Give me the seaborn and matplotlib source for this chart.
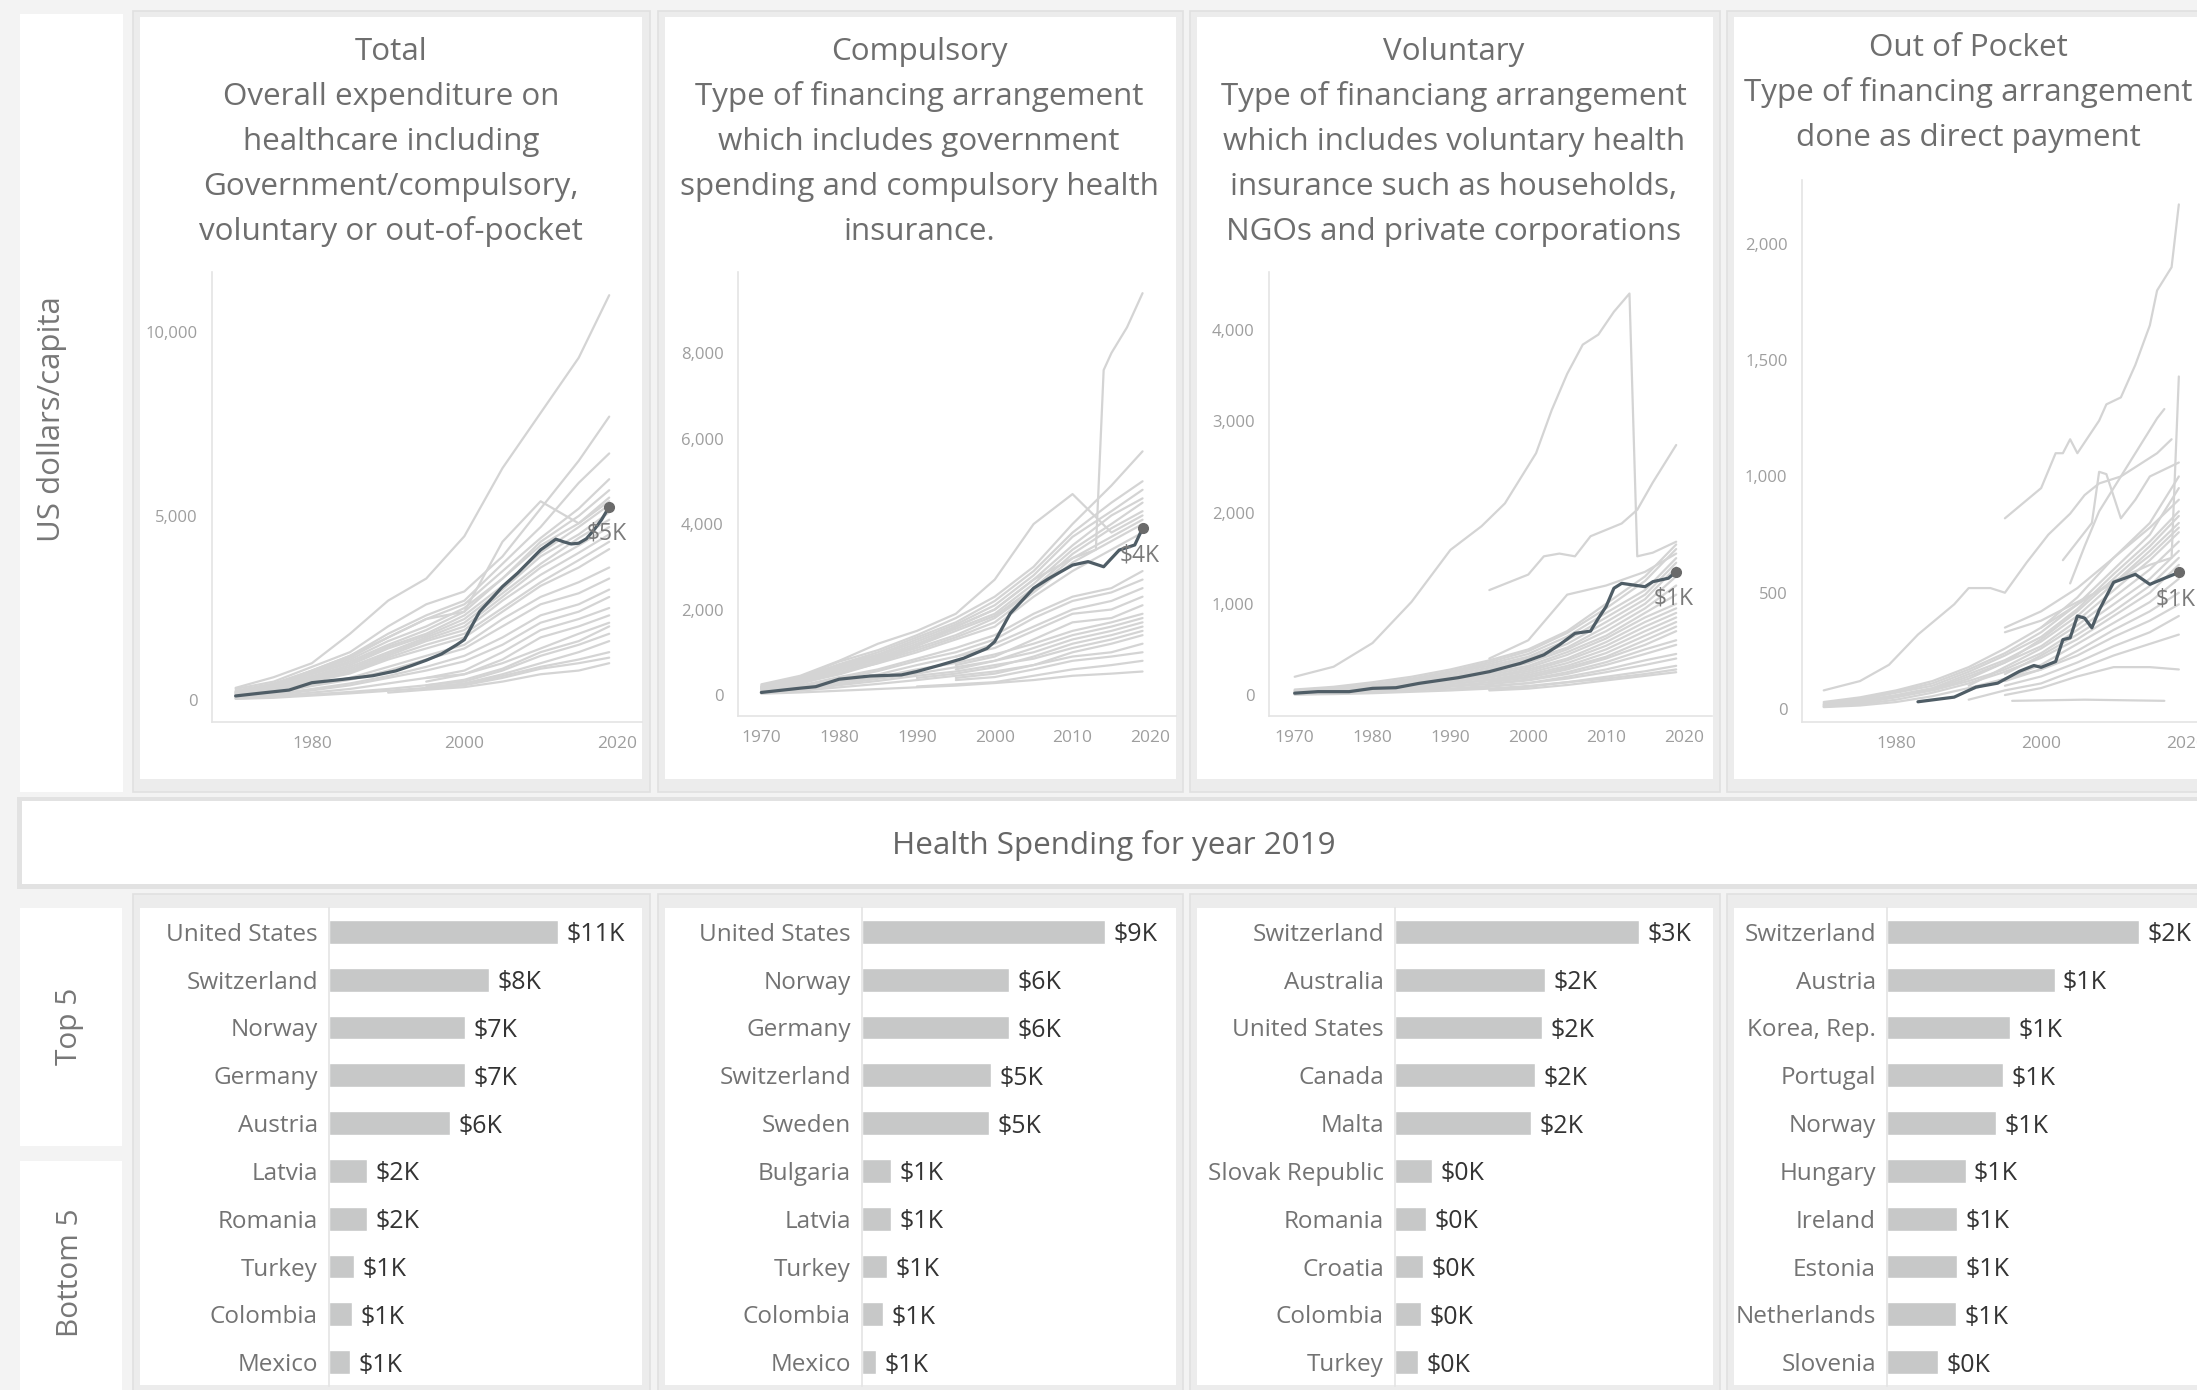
import matplotlib
matplotlib.use("Agg")
import numpy as np
import pandas as pd
import matplotlib.pyplot as plt
import seaborn as sns
from matplotlib.patches import Rectangle

# ---------------- DATA ----------------
GRID_YEARS = [1970, 1975, 1980, 1985, 1990, 1995, 2000, 2005, 2010, 2015, 2019]
N = None

TOTAL_GRAY = [
    [330, 620, 1000, 1800, 2700, 3300, 4450, 6300, 7800, 9300, 11000],
    [300, 500, 900, 1300, 2000, 2600, 2950, 3900, 5200, 6500, 7700],
    [250, 450, 800, 1200, 1800, 2300, 2700, 3700, 4700, 5900, 6700],
    [200, 400, 800, 1200, 1700, 2200, 2400, 4300, 5400, 4800, 5400],
    [230, 420, 780, 1150, 1700, 2200, 2600, 3500, 4400, 5200, 6000],
    [220, 400, 760, 1100, 1600, 2000, 2500, 3300, 4300, 5000, 5700],
    [200, 380, 720, 1050, 1500, 1900, 2400, 3300, 4200, 4800, 5500],
    [180, 360, 700, 1000, 1450, 1800, 2300, 3100, 4000, 4700, 5300],
    [170, 340, 650, 950, 1400, 1750, 2200, 3000, 3900, 4500, 5100],
    [160, 320, 620, 900, 1300, 1700, 2100, 2900, 3700, 4400, 4900],
    [150, 300, 600, 850, 1250, 1650, 2000, 2800, 3600, 4200, 4700],
    [140, 280, 560, 800, 1200, 1600, 1900, 2700, 3400, 4000, 4500],
    [130, 260, 520, 760, 1150, 1500, 1800, 2500, 3200, 3800, 4300],
    [120, 240, 500, 720, 1100, 1400, 1700, 2400, 3100, 3600, 4100],
    [100, 200, 420, 600, 900, 1200, 1500, 2200, 2800, 3200, 3600],
    [90, 180, 380, 550, 800, 1100, 1400, 2000, 2600, 2900, 3300],
    [80, 150, 300, 450, 650, 900, 1200, 1700, 2300, 2600, 3000],
    [70, 130, 260, 400, 600, 800, 1050, 1500, 2100, 2400, 2800],
    [N, N, N, N, N, 600, 800, 1300, 1900, 2200, 2500],
    [N, N, N, N, N, 500, 700, 1100, 1700, 2000, 2300],
    [50, 100, 200, 300, 450, 600, 700, 1000, 1400, 1800, 2100],
    [N, N, N, N, N, 400, 550, 850, 1300, 1600, 2000],
    [40, 80, 150, 220, 300, 400, 500, 800, 1200, 1500, 1800],
    [N, N, N, N, N, 350, 450, 700, 1000, 1300, 1600],
    [30, 60, 120, 180, 250, 330, 420, 650, 900, 1100, 1300],
    [N, N, N, N, N, 300, 400, 600, 850, 1000, 1150],
    [N, N, N, N, 200, 280, 350, 500, 700, 800, 1000],
]

COMP_GRAY = [
    [250, 450, 800, 1200, 1500, 1900, 2700, 4000, 4700, 3800, 4200],
    [220, 420, 780, 1050, 1400, 1800, 2300, 3000, 4000, 4900, 5700],
    [200, 400, 720, 1000, 1350, 1700, 2200, 2900, 3800, 4500, 5000],
    [190, 380, 700, 950, 1300, 1650, 2100, 2800, 3700, 4300, 4800],
    [180, 360, 680, 920, 1250, 1600, 2000, 2700, 3500, 4200, 4600],
    [170, 340, 650, 880, 1200, 1550, 1900, 2600, 3400, 4000, 4500],
    [160, 320, 620, 850, 1150, 1500, 1850, 2500, 3300, 3900, 4300],
    [150, 300, 600, 820, 1100, 1400, 1800, 2450, 3200, 3700, 4100],
    [140, 280, 560, 780, 1050, 1350, 1700, 2400, 3100, 3600, 4000],
    [130, 260, 520, 740, 1000, 1300, 1600, 2300, 2900, 3400, 3800],
    [110, 220, 420, 600, 850, 1100, 1400, 1900, 2300, 2500, 2900],
    [100, 200, 380, 560, 800, 1000, 1300, 1800, 2200, 2400, 2700],
    [N, N, N, N, N, 900, 1200, 1600, 2000, 2200, 2500],
    [90, 180, 330, 480, 700, 900, 1100, 1500, 1900, 2000, 2300],
    [N, N, N, N, N, 700, 900, 1300, 1700, 1800, 2100],
    [80, 160, 300, 420, 600, 750, 950, 1200, 1500, 1700, 1900],
    [N, N, N, N, N, 600, 800, 1100, 1400, 1600, 1800],
    [70, 140, 260, 380, 500, 650, 800, 1000, 1300, 1500, 1700],
    [N, N, N, N, 400, 500, 650, 900, 1200, 1400, 1600],
    [60, 120, 230, 330, 450, 550, 700, 850, 1100, 1300, 1500],
    [N, N, N, N, N, 400, 500, 700, 1000, 1200, 1400],
    [50, 100, 180, 260, 350, 450, 550, 700, 900, 1000, 1200],
    [N, N, N, N, N, 350, 420, 600, 800, 900, 1000],
    [N, N, N, N, 200, 250, 300, 450, 600, 700, 800],
    [30, 60, 100, 140, 180, 220, 280, 350, 450, 500, 550],
]
COMP_JUMP_YEARS = [1970, 1975, 1980, 1985, 1990, 1995, 2000, 2005, 2010, 2013, 2014, 2015, 2017, 2019]
COMP_JUMP = [150, 280, 480, 750, 1150, 1600, 2000, 2700, 3200, 3400, 7600, 8000, 8600, 9400]

VOL_GRAY = [
    [60, 90, 140, 200, 280, 380, 500, 700, 1000, 1300, 1650],
    [50, 80, 120, 180, 260, 360, 480, 680, 950, 1250, 1600],
    [N, N, N, N, N, 400, 600, 1100, 1200, 1350, 1550],
    [45, 75, 110, 170, 250, 340, 450, 640, 900, 1150, 1500],
    [40, 70, 100, 160, 240, 320, 420, 600, 850, 1100, 1450],
    [35, 60, 95, 150, 220, 300, 400, 560, 800, 1050, 1400],
    [30, 55, 90, 140, 200, 280, 380, 520, 750, 1000, 1300],
    [28, 50, 85, 130, 190, 260, 350, 500, 700, 950, 1200],
    [25, 45, 80, 120, 180, 240, 320, 470, 650, 900, 1100],
    [22, 40, 70, 110, 160, 220, 300, 440, 620, 850, 1000],
    [20, 35, 60, 100, 150, 200, 280, 400, 580, 800, 950],
    [18, 30, 55, 90, 140, 190, 260, 380, 540, 750, 900],
    [N, N, N, N, 120, 170, 240, 350, 500, 700, 850],
    [15, 25, 50, 80, 120, 160, 220, 320, 460, 650, 800],
    [N, N, N, N, N, 150, 200, 300, 420, 600, 750],
    [12, 20, 40, 70, 100, 140, 190, 280, 400, 550, 700],
    [N, N, N, N, N, 120, 170, 250, 360, 500, 600],
    [10, 18, 35, 60, 90, 120, 160, 230, 330, 450, 550],
    [N, N, N, N, 60, 90, 130, 200, 280, 380, 450],
    [8, 15, 30, 50, 70, 100, 130, 180, 250, 330, 400],
    [N, N, N, N, N, 60, 90, 140, 200, 260, 320],
    [5, 10, 20, 35, 50, 70, 100, 140, 180, 230, 280],
    [N, N, N, N, N, 50, 70, 110, 160, 210, 250],
]
VOL_DROP_YEARS = [1970, 1975, 1980, 1985, 1990, 1994, 1997, 2001, 2003, 2005, 2007, 2009, 2011, 2013, 2014, 2016, 2019]
VOL_DROP = [200, 310, 570, 1020, 1590, 1850, 2100, 2650, 3120, 3520, 3840, 3950, 4200, 4400, 1520, 1560, 1680]
VOL_RISE_YEARS = [1995, 2000, 2002, 2004, 2006, 2008, 2010, 2012, 2014, 2016, 2019]
VOL_RISE = [1150, 1320, 1520, 1550, 1520, 1740, 1810, 1880, 2030, 2330, 2740]

OOP_GRAY = [
    [30, 50, 80, 120, 180, 260, 350, 480, 650, 800, 1000],
    [25, 45, 75, 110, 170, 240, 330, 450, 600, 750, 950],
    [N, N, N, N, N, 350, 420, 520, 650, 780, 900],
    [20, 40, 70, 100, 160, 230, 310, 430, 580, 720, 850],
    [N, N, N, 80, 130, 200, 300, 420, 560, 700, 830],
    [18, 35, 60, 90, 150, 210, 290, 400, 540, 680, 800],
    [N, N, N, N, N, 330, 380, 460, 540, 660, 780],
    [15, 30, 55, 85, 140, 200, 270, 380, 510, 640, 760],
    [N, N, N, N, 100, 180, 260, 360, 480, 600, 720],
    [12, 25, 50, 80, 120, 170, 240, 340, 450, 560, 680],
    [N, N, N, N, N, 150, 230, 320, 420, 530, 650],
    [10, 20, 40, 70, 110, 160, 220, 300, 400, 500, 620],
    [N, N, N, N, 80, 130, 190, 280, 370, 460, 560],
    [N, N, N, N, N, 120, 170, 250, 340, 420, 500],
    [8, 15, 30, 55, 90, 130, 170, 230, 310, 380, 450],
    [N, N, N, N, N, 100, 140, 200, 270, 330, 400],
    [N, N, N, N, 40, 80, 110, 170, 230, 280, 320],
    [N, N, N, N, N, 60, 90, 140, 180, 180, 170],
]
OOP_TOP_YEARS = [1995, 2000, 2002, 2003, 2004, 2005, 2008, 2009, 2011, 2013, 2015, 2016, 2018, 2019]
OOP_TOP = [820, 950, 1100, 1100, 1160, 1100, 1240, 1310, 1340, 1480, 1650, 1800, 1900, 2170]
OOP_SECOND_YEARS = [1970, 1975, 1979, 1983, 1988, 1990, 1993, 1995, 1998, 2001, 2004, 2006, 2008, 2011, 2014, 2016, 2018]
OOP_SECOND = [80, 120, 190, 320, 450, 520, 520, 500, 630, 750, 840, 920, 970, 1000, 1060, 1100, 1160]
OOP_SPIKE_YEARS = [2000, 2005, 2010, 2015, 2018, 2019]
OOP_SPIKE = [350, 450, 550, 620, 650, 1430]
OOP_CLIMB_YEARS = [2004, 2006, 2008, 2010, 2012, 2014, 2016, 2017]
OOP_CLIMB = [540, 700, 850, 950, 1050, 1150, 1250, 1290]
OOP_PEAK_YEARS = [2003, 2005, 2007, 2008, 2009, 2011, 2013, 2015, 2019]
OOP_PEAK = [640, 720, 800, 1020, 1010, 820, 900, 1000, 1060]
OOP_FLAT_YEARS = [1996, 2006, 2017]
OOP_FLAT = [35, 40, 35]

TOTAL_HL_YEARS = [1970, 1973, 1977, 1980, 1984, 1988, 1991, 1993, 1995, 1997, 1999, 2000, 2002, 2004,
                  2005, 2007, 2010, 2012, 2013, 2014, 2015, 2016, 2017, 2018, 2019]
TOTAL_HL = [110, 180, 270, 470, 560, 660, 790, 930, 1080, 1250, 1500, 1640, 2400, 2850,
            3080, 3450, 4080, 4370, 4300, 4240, 4260, 4380, 4620, 4900, 5250]
COMP_HL_YEARS = [1970, 1972, 1975, 1977, 1980, 1984, 1988, 1990, 1993, 1996, 1999, 2000, 2002, 2005,
                 2007, 2010, 2012, 2014, 2016, 2017, 2018, 2019]
COMP_HL = [60, 100, 160, 195, 370, 445, 470, 550, 700, 860, 1090, 1250, 1910, 2500,
           2730, 3040, 3120, 3000, 3390, 3450, 3510, 3900]
VOL_HL_YEARS = [1970, 1973, 1977, 1980, 1983, 1986, 1991, 1995, 1999, 2002, 2004, 2006, 2008, 2009,
                2010, 2011, 2012, 2015, 2016, 2018, 2019]
VOL_HL = [20, 37, 37, 73, 80, 128, 190, 256, 347, 440, 550, 676, 700, 840,
          970, 1170, 1224, 1187, 1242, 1280, 1352]
OOP_HL_YEARS = [1983, 1988, 1991, 1994, 1997, 1999, 2000, 2002, 2003, 2004, 2005, 2006, 2007, 2008,
                2010, 2013, 2015, 2017, 2019]
OOP_HL = [31, 51, 94, 111, 162, 187, 179, 204, 298, 306, 400, 391, 349, 425, 545, 579, 536, 562, 587]

TOTAL_COUNTRIES = ['United States', 'Switzerland', 'Norway', 'Germany', 'Austria',
                   'Latvia', 'Romania', 'Turkey', 'Colombia', 'Mexico']
TOTAL_2019 = [11000, 7690, 6530, 6530, 5810, 1830, 1830, 1200, 1110, 1010]
COMP_COUNTRIES = ['United States', 'Norway', 'Germany', 'Switzerland', 'Sweden',
                  'Bulgaria', 'Latvia', 'Turkey', 'Colombia', 'Mexico']
COMP_2019 = [9400, 5690, 5690, 4990, 4910, 1120, 1120, 970, 810, 540]
VOL_COUNTRIES = ['Switzerland', 'Australia', 'United States', 'Canada', 'Malta',
                 'Slovak Republic', 'Romania', 'Croatia', 'Colombia', 'Turkey']
VOL_2019 = [2750, 1690, 1660, 1580, 1530, 420, 350, 320, 290, 260]
OOP_COUNTRIES = ['Switzerland', 'Austria', 'Korea, Rep.', 'Portugal', 'Norway',
                 'Hungary', 'Ireland', 'Estonia', 'Netherlands', 'Slovenia']
OOP_2019 = [2150, 1430, 1050, 990, 930, 670, 600, 600, 590, 435]

TITLES = [
    ['Total', 'Overall expenditure on', 'healthcare including', 'Government/compulsory,',
     'voluntary or out-of-pocket'],
    ['Compulsory', 'Type of financing arrangement', 'which includes government',
     'spending and compulsory health', 'insurance.'],
    ['Voluntary', 'Type of financiang arrangement', 'which includes voluntary health',
     'insurance such as households,', 'NGOs and private corporations'],
    ['Out of Pocket', 'Type of financing arrangement', 'done as direct payment'],
]
Y_LABEL = 'US dollars/capita'
BANNER = 'Health Spending for year 2019'
GROUP_LABELS = ['Top 5', 'Bottom 5']

# ---------------- STYLE / LAYOUT ----------------
W, H = 2197, 1390
sns.set_theme(style="white")
plt.rcParams['font.family'] = ['Open Sans', 'DejaVu Sans']

BG = '#f3f3f3'
BAND = '#ececec'
EDGE = '#e0e0e0'
GRAY_LINE = '#d4d4d4'
HL_LINE = '#4f5d66'
TICK_C = '#9e9e9e'
TITLE_C = '#6e6e6e'
BAR_C = '#c7c8c8'

fig = plt.figure(figsize=(W / 100, H / 100), dpi=100, facecolor=BG)


def fr(x0, y0, x1, y1):
    return [x0 / W, 1 - y1 / H, (x1 - x0) / W, (y1 - y0) / H]


def box(x0, y0, x1, y1, fc='white', ec=None, lw=0.0, z=-10):
    fig.patches.append(Rectangle((x0 / W, 1 - y1 / H), (x1 - x0) / W, (y1 - y0) / H,
                                 transform=fig.transFigure, facecolor=fc,
                                 edgecolor=ec if ec else fc, linewidth=lw, zorder=z))


def ftext(x, y, s, **kw):
    fig.text(x / W, 1 - y / H, s, **kw)


OUTER_X = [(133, 650), (658, 1183), (1190, 1720), (1727, 2212)]
INNER_X = [(140, 642), (665, 1176), (1197, 1713), (1734, 2205)]

# top row frames
box(20, 14, 123, 792)
for (ox0, ox1), (ix0, ix1) in zip(OUTER_X, INNER_X):
    box(ox0, 11, ox1, 792, fc=BAND, ec=EDGE, lw=1.2, z=-11)
    box(ix0, 17, ix1, 779)
# banner
box(17, 797, 2205, 889, fc='#e2e2e2', z=-11)
box(22, 801, 2205, 884)
# bottom row frames
box(20, 908, 122, 1146)
box(20, 1161, 122, 1400)
for (ox0, ox1), (ix0, ix1) in zip(OUTER_X, INNER_X):
    box(ox0, 894, ox1, 1400, fc=BAND, ec=EDGE, lw=1.2, z=-11)
    box(ix0, 908, ix1, 1385)

# titles
CENTERS = [391, 919, 1454, 1968]
for c, (cx, lines) in enumerate(zip(CENTERS, TITLES)):
    first = 45 if c == 3 else 49
    for k, line in enumerate(lines):
        ftext(cx, first + 45 * k + 11, line, ha='center', va='baseline',
              fontsize=22.6, color=TITLE_C)

ftext(52, 419, Y_LABEL, rotation=90, ha='center', va='center', fontsize=22.5, color='#777777')
ftext(1114, 854, BANNER, ha='center', va='baseline', fontsize=22.6, color='#666666')
ftext(70, 1026, GROUP_LABELS[0], rotation=90, ha='center', va='center', fontsize=21.5, color='#777777')
ftext(71, 1273, GROUP_LABELS[1], rotation=90, ha='center', va='center', fontsize=21.5, color='#777777')


def line_panel(px, gray, specials, hl_years, hl_vals, xlim, ylim, xticks, yticks):
    ax = fig.add_axes(fr(*px))
    ax.set_facecolor('none')
    rows = []
    for i, vals in enumerate(gray):
        for yr, v in zip(GRID_YEARS, vals):
            if v is not None:
                rows.append((f'g{i}', yr, v))
    for j, (yrs, vals) in enumerate(specials):
        for yr, v in zip(yrs, vals):
            rows.append((f's{j}', yr, v))
    df = pd.DataFrame(rows, columns=['country', 'year', 'value'])
    sns.lineplot(data=df, x='year', y='value', units='country', estimator=None,
                 color=GRAY_LINE, lw=1.6, ax=ax, legend=False)
    hl = pd.DataFrame({'year': hl_years, 'value': hl_vals})
    sns.lineplot(data=hl, x='year', y='value', color=HL_LINE, lw=2.3, ax=ax)
    ax.plot(hl_years[-1], hl_vals[-1], 'o', color='#6a6a6a', ms=7, zorder=5)
    ax.annotate(f'${round(hl_vals[-1] / 1000)}K', (hl_years[-1], hl_vals[-1]),
                xytext=(-2, -19.5), textcoords='offset points', ha='center', va='center',
                color='#7a7a7a', fontsize=16.5)
    ax.set_xlim(*xlim)
    ax.set_ylim(*ylim)
    ax.set_xticks(xticks)
    ax.set_xticklabels([str(t) for t in xticks])
    ax.set_yticks(yticks)
    ax.set_yticklabels([f'{t:,}' for t in yticks])
    ax.set_xlabel('')
    ax.set_ylabel('')
    for s in ['top', 'right']:
        ax.spines[s].set_visible(False)
    for s in ['left', 'bottom']:
        ax.spines[s].set_color('#e4e4e4')
        ax.spines[s].set_linewidth(1.2)
    ax.tick_params(axis='y', length=0, pad=10.5, labelsize=12, labelcolor=TICK_C)
    ax.tick_params(axis='x', length=0, pad=10, labelsize=12.5, labelcolor=TICK_C)
    ax.grid(False)
    return ax


line_panel((212, 272, 642, 722), TOTAL_GRAY, [], TOTAL_HL_YEARS, TOTAL_HL,
           (1966.9, 2023.3), (-598, 11630), [1980, 2000, 2020], [0, 5000, 10000])
line_panel((738, 272, 1176, 716), COMP_GRAY, [(COMP_JUMP_YEARS, COMP_JUMP)],
           COMP_HL_YEARS, COMP_HL, (1967.0, 2023.3), (-491, 9895),
           [1970, 1980, 1990, 2000, 2010, 2020], [0, 2000, 4000, 6000, 8000])
line_panel((1269, 272, 1712, 716), VOL_GRAY,
           [(VOL_DROP_YEARS, VOL_DROP), (VOL_RISE_YEARS, VOL_RISE)],
           VOL_HL_YEARS, VOL_HL, (1966.7, 2023.6), (-230, 4636),
           [1970, 1980, 1990, 2000, 2010, 2020], [0, 1000, 2000, 3000, 4000])
line_panel((1802, 180, 2210, 722), OOP_GRAY,
           [(OOP_TOP_YEARS, OOP_TOP), (OOP_SECOND_YEARS, OOP_SECOND),
            (OOP_SPIKE_YEARS, OOP_SPIKE), (OOP_CLIMB_YEARS, OOP_CLIMB),
            (OOP_PEAK_YEARS, OOP_PEAK), (OOP_FLAT_YEARS, OOP_FLAT)],
           OOP_HL_YEARS, OOP_HL, (1967.0, 2023.3), (-56, 2275),
           [1980, 2000, 2020], [0, 500, 1000, 1500, 2000])


def bar_panel(px, names, vals, xmax):
    ax = fig.add_axes(fr(*px))
    ax.set_facecolor('none')
    df = pd.DataFrame({'country': names, 'value': vals})
    sns.barplot(data=df, x='value', y='country', orient='h', color=BAR_C,
                saturation=1, width=0.5, ax=ax)
    ax.set_xlim(0, xmax)
    ax.set_ylim(9.5, -0.5)
    for i, v in enumerate(vals):
        ax.annotate(f'${round(v / 1000)}K', (v, i), xytext=(6, 0), textcoords='offset points',
                    ha='left', va='center_baseline', color='#333333', fontsize=18)
    ax.xaxis.set_visible(False)
    ax.set_ylabel('')
    for s in ['top', 'right', 'bottom']:
        ax.spines[s].set_visible(False)
    ax.spines['left'].set_color('#e4e4e4')
    ax.spines['left'].set_linewidth(1.2)
    ax.tick_params(axis='y', length=0, pad=8, labelsize=17.5, labelcolor='#737373')
    return ax


bar_panel((329, 908, 642, 1386), TOTAL_COUNTRIES, TOTAL_2019, 15035)
bar_panel((862, 908, 1176, 1386), COMP_COUNTRIES, COMP_2019, 12146)
bar_panel((1395, 908, 1712, 1386), VOL_COUNTRIES, VOL_2019, 3573)
bar_panel((1887, 908, 2203, 1386), OOP_COUNTRIES, OOP_2019, 2696)

fig.savefig('out.png', dpi=100, facecolor=BG)
